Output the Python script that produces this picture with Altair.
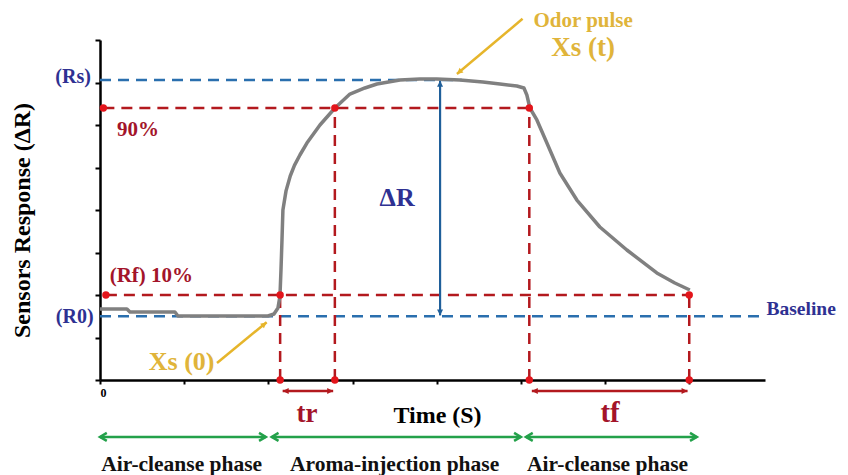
import math
import altair as alt
import pandas as pd

# ---------------- data ----------------
# sensor response curve (time units, response units)
curve_t = [0, 0.32, 0.356, 0.89, 0.926, 1.995, 2.067, 2.114, 2.138, 2.15,
           2.162, 2.173, 2.21, 2.26, 2.31, 2.375, 2.458, 2.613, 2.791, 2.969, 3.147,
           3.29, 3.563, 3.8, 4.0, 4.276, 4.549, 4.751, 4.952, 5.036, 5.071,
           5.107, 5.19, 5.309, 5.463, 5.665, 5.938, 6.259, 6.615, 6.829, 7.007]
curve_r = [1.671, 1.671, 1.6, 1.6, 1.506, 1.506, 1.553, 1.694, 1.976, 2.588,
           3.294, 4.0, 4.45, 4.8, 5.05, 5.294, 5.576, 6.0, 6.4, 6.729, 6.871,
           6.965, 7.059, 7.082, 7.082, 7.059, 7.012, 6.965, 6.918, 6.871, 6.706,
           6.4, 6.118, 5.576, 4.871, 4.235, 3.6, 3.059, 2.518, 2.282, 2.118]

# characteristic levels and times
R_S, R_90, R_10, R_0 = 7.06, 6.4, 2.0, 1.5
T_ON, T_90, T_OFF, T_END = 2.14, 2.79, 5.1, 7.0
X_MAX, Y_MAX = 7.9, 8.0

# dashed reference lines
blue_h_x1 = [0.0, 0.0]
blue_h_x2 = [4.3, X_MAX]
blue_h_y = [R_S, R_0]
red_h_x1 = [0.04, 0.07]
red_h_x2 = [T_OFF, T_END]
red_h_y = [R_90, R_10]
red_v_x = [T_ON, T_90, T_OFF, T_END]
red_v_y2 = [R_10, R_90, R_90, R_10]

# red marker dots
dot_x = [0.04, 0.07, T_ON, T_90, T_OFF, T_END, T_ON, T_90, T_OFF, T_END]
dot_y = [R_90, R_10, R_10, R_90, R_90, R_10, 0, 0, 0, 0]

# double-headed arrows: (x1, y1, x2, y2)
tr_arrow = (2.17, -0.26, 2.77, -0.26)
tf_arrow = (5.13, -0.26, 6.98, -0.26)
dr_arrow = (4.04, 1.52, 4.04, 7.04)
phase_x1 = [0.0, 2.04, 5.06]
phase_x2 = [1.97, 5.0, 7.09]
phase_y = -1.34
# single-headed pointer arrows (from, to)
ptr_x1 = [1.39, 5.02]
ptr_y1 = [0.40, 8.50]
ptr_x2 = [1.98, 4.24]
ptr_y2 = [1.36, 7.20]

# text labels
lab_text = ["(Rs)", "(R0)", "90%", "(Rf) 10%", "Xs (0)", "Odor pulse", "Xs (t)",
            "ΔR", "Baseline", "tr", "tf",
            "Air-cleanse phase", "Aroma-injection phase", "Air-cleanse phase"]
lab_x = [-0.32, -0.30, 0.45, 0.61, 0.97, 5.74, 5.74, 3.53, 8.33, 2.46, 6.06,
         0.97, 3.5, 6.03]
lab_y = [7.12, 1.48, 5.88, 2.45, 0.42, 8.44, 7.81, 4.28, 1.66, -0.80, -0.78,
         -1.99, -1.99, -1.99]
lab_color = ["#2e3192", "#2e3192", "#a3142a", "#a3142a", "#e0b43a", "#e0b43a",
             "#e0b43a", "#2e3192", "#2e3192", "#a3142a", "#a3142a",
             "#111111", "#111111", "#111111"]
lab_size = [20, 20, 21, 21, 26, 21, 27, 26, 19.5, 27, 29, 21.5, 21.5, 21.5]

# ---------------- styling ----------------
W, H = 665, 340
PX_X, PX_Y = W / X_MAX, H / Y_MAX
FONT = "'Liberation Serif', 'DejaVu Serif', serif"
BLUE_DASH = "#2a6fae"
RED_DASH = "#b3191e"
DOT = "#e3151b"
GREEN = "#23a14a"
YELLOW = "#e6b52b"
DR_BLUE = "#1f5f9a"

HEAD = "M0,0 L-2,-1 L-2,1 Z"          # filled head, tip at origin, points right
CHEV = "M-1.7,-1 L0,0 L-1.7,1"        # open chevron, tip at origin, points right


def screen_angle(x1, y1, x2, y2):
    dx = (x2 - x1) * PX_X
    dy = -(y2 - y1) * PX_Y
    return math.degrees(math.atan2(dy, dx)) % 360


xs = alt.Scale(domain=[0, X_MAX], nice=False, zero=False)
ys = alt.Scale(domain=[0, Y_MAX], nice=False, zero=False)

X_AX = alt.Axis(values=list(range(0, 8)), labelExpr="datum.value == 0 ? '0' : ''",
                grid=False, domainColor="black", domainWidth=2.5, tickColor="black",
                tickWidth=2, tickSize=4, labelFont=FONT, labelFontWeight="bold",
                labelFontSize=12, labelColor="black", labelPadding=3,
                title="Time (S)", titleFont=FONT, titleFontSize=24,
                titleFontWeight="bold", titleColor="black", titleX=337, titleY=35,
                titleBaseline="middle", titleAlign="center")
Y_AX = alt.Axis(values=list(range(0, 9)), labels=False, grid=False,
                domainColor="black", domainWidth=2.5, tickColor="black",
                tickWidth=2, tickSize=5,
                title="Sensors Response (ΔR)", titleFont=FONT, titleFontSize=24,
                titleFontWeight="bold", titleColor="black", titleX=-78, titleY=180,
                titleAngle=270, titleBaseline="middle", titleAlign="center")


def X(field="x"):
    return alt.X(f"{field}:Q", scale=xs, axis=X_AX)


def Y(field="y"):
    return alt.Y(f"{field}:Q", scale=ys, axis=Y_AX)


def seg_layer(x1, y1, x2, y2, color, width, dash=None):
    df = pd.DataFrame({"x": x1, "y": y1, "x2": x2, "y2": y2})
    kw = dict(color=color, strokeWidth=width)
    if dash:
        kw["strokeDash"] = dash
    return alt.Chart(df).mark_rule(**kw).encode(x=X(), y=Y(), x2="x2:Q", y2="y2:Q")


def head_layer(hx, hy, ang, color, size, shape, filled=True, sw=2.5):
    df = pd.DataFrame({"x": hx, "y": hy, "a": ang})
    mk = dict(shape=shape, size=size, opacity=1)
    if filled:
        mk.update(filled=True, fill=color, strokeWidth=0)
    else:
        mk.update(filled=False, stroke=color, strokeWidth=sw, strokeJoin="miter",
                  strokeCap="butt")
    return alt.Chart(df).mark_point(**mk).encode(
        x=X(), y=Y(), angle=alt.Angle("a:Q", scale=None))


def double_arrow(a, color, width, size, shape, filled=True):
    x1, y1, x2, y2 = a
    ang_fwd = screen_angle(x1, y1, x2, y2)
    ang_back = (ang_fwd + 180) % 360
    return [seg_layer([x1], [y1], [x2], [y2], color, width),
            head_layer([x2, x1], [y2, y1], [ang_fwd, ang_back], color, size, shape, filled)]


layers = []

# dashed reference lines
layers.append(seg_layer(blue_h_x1, blue_h_y, blue_h_x2, blue_h_y, BLUE_DASH, 2.5, [11, 7]))
layers.append(seg_layer(red_h_x1, red_h_y, red_h_x2, red_h_y, RED_DASH, 2.5, [11, 7]))
layers.append(seg_layer(red_v_x, [0] * 4, red_v_x, red_v_y2, RED_DASH, 2.5, [11, 7]))

# response curve
curve_df = pd.DataFrame({"x": curve_t, "y": curve_r, "o": list(range(len(curve_t)))})
layers.append(alt.Chart(curve_df).mark_line(color="#808080", strokeWidth=3.5,
                                            strokeJoin="round").encode(
    x=X(), y=Y(), order="o:Q"))

# ΔR arrow
layers += double_arrow(dr_arrow, DR_BLUE, 2.2, 36, HEAD)
# tr / tf arrows
layers += double_arrow(tr_arrow, RED_DASH, 2.5, 36, HEAD)
layers += double_arrow(tf_arrow, RED_DASH, 2.5, 36, HEAD)
# phase arrows (green)
for a, b in zip(phase_x1, phase_x2):
    layers.append(seg_layer([a], [phase_y], [b], [phase_y], GREEN, 2.5))
    layers.append(head_layer([b, a], [phase_y, phase_y], [0, 180], GREEN, 64, CHEV,
                             filled=False, sw=2.5))
# yellow pointer arrows
layers.append(seg_layer(ptr_x1, ptr_y1, ptr_x2, ptr_y2, YELLOW, 2.5))
layers.append(head_layer(ptr_x2, ptr_y2,
                         [screen_angle(a, b, c, d) for a, b, c, d in
                          zip(ptr_x1, ptr_y1, ptr_x2, ptr_y2)],
                         YELLOW, 36, HEAD))

# red dots
dots_df = pd.DataFrame({"x": dot_x, "y": dot_y})
layers.append(alt.Chart(dots_df).mark_circle(size=55, color=DOT, opacity=1).encode(
    x=X(), y=Y()))

# text labels
lab_df = pd.DataFrame({"text": lab_text, "x": lab_x, "y": lab_y, "c": lab_color,
                       "s": lab_size})
layers.append(alt.Chart(lab_df).mark_text(font=FONT, fontWeight="bold",
                                          align="center", baseline="middle").encode(
    x=X(), y=Y(),
    text="text:N", color=alt.Color("c:N", scale=None), size=alt.Size("s:Q", scale=None)))

chart = alt.layer(*layers).properties(
    width=W, height=H,
    autosize=alt.AutoSizeParams(type="none"),
    padding={"left": 92, "top": 32, "right": 75, "bottom": 95},
    background="white",
).configure_view(stroke=None)

chart.save("out.html", embed_options={"renderer": "svg", "actions": False})
